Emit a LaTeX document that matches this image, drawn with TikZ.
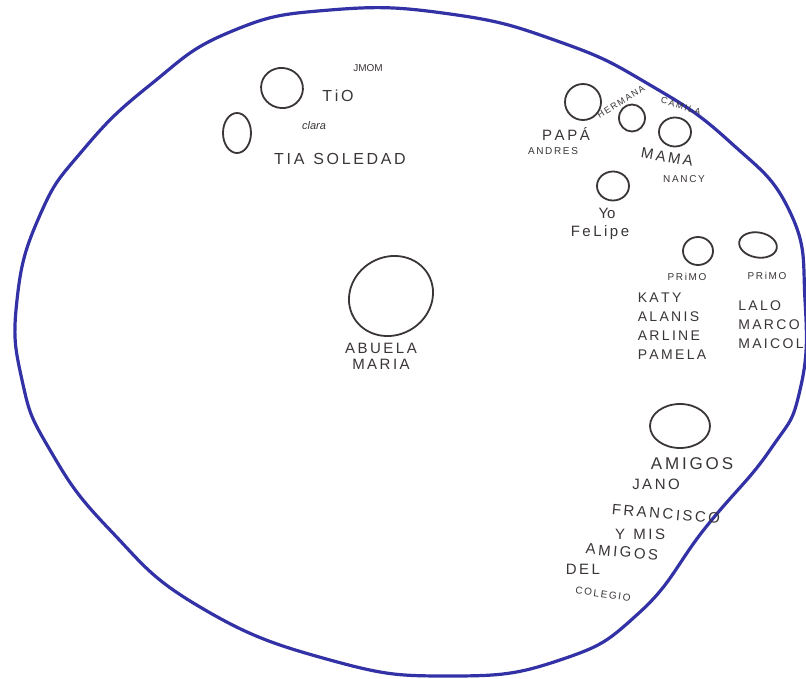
\documentclass[tikz,border=0pt]{standalone}
\usepackage{fontspec}
\setmainfont{Liberation Sans}
\usepackage{tikz}
\usetikzlibrary{positioning,shapes.geometric}
\usepackage{xcolor}
\definecolor{inkblue}{HTML}{3232A6}
\definecolor{pencil}{HTML}{3A3538}

\begin{document}
\begin{tikzpicture}[
    x=1pt,y=-1pt,
    ring/.style={draw=pencil,ellipse,line width=1.8pt,inner sep=0pt},
    word/.style={font=\fontsize{15}{15}\selectfont,text=pencil,inner sep=1pt},
    small/.style={font=\fontsize{10}{10}\selectfont,text=pencil,inner sep=1pt},
    list/.style={word,align=left,font=\fontsize{14}{19}\selectfont}
]
\useasboundingbox (0,0) rectangle (806,679);
\fill[white] (0,0) rectangle (806,679);

% outer boundary
\draw[inkblue,line width=3.2pt] plot[smooth cycle,tension=0.8] coordinates {
  (17,300) (40,215) (83,150) (150,85) (230,32) (330,10) (450,14) (560,42)
  (650,85) (730,142) (790,212) (805,300) (800,390) (770,450) (706,527)
  (640,612) (560,660) (450,676) (330,660) (200,607) (110,530) (50,450) (22,380)};

% circles
\node[ring,minimum width=42pt,minimum height=40pt,rotate=-15] (tio) at (282,88) {};
\node[ring,minimum width=28pt,minimum height=40pt] (tia) at (237,133) {};
\node[ring,minimum width=36pt,minimum height=36pt] (papa) at (583,102) {};
\node[ring,minimum width=26pt,minimum height=27pt] (hermana) at (632,118) {};
\node[ring,minimum width=32pt,minimum height=29pt] (mama) at (675,132) {};
\node[ring,minimum width=32pt,minimum height=29pt] (yo) at (613,186) {};
\node[ring,minimum width=30pt,minimum height=28pt] (primoA) at (698,251) {};
\node[ring,minimum width=38pt,minimum height=25pt,rotate=-10] (primoB) at (758,245) {};
\node[ring,minimum width=86pt,minimum height=78pt,rotate=30] (abuela) at (391,296) {};
\node[ring,minimum width=60pt,minimum height=44pt] (amigos) at (680,426) {};

% labels
\node[small] (jmom) at (368,68) {JMOM};
\node[word,font=\fontsize{16}{16}\selectfont] (tioTxt) at (338,96) {T\,i\,O};
\node[small,font=\itshape\fontsize{11}{11}\selectfont] (clara) at (314,126) {clara};
\node[word,font=\fontsize{16}{16}\selectfont] (tiaTxt) at (340,159) {T\,I\,A\ \ S\,O\,L\,E\,D\,A\,D};

\node[word] (papaTxt) at (566,134) {P\,A\,P\,Á};
\node[small] (andres) at (553,151) {A\,N\,D\,R\,E\,S};
\node[small,font=\fontsize{9}{9}\selectfont,rotate=32] (hermanaTxt) at (621,102) {H\,E\,R\,M\,A\,N\,A};
\node[small,font=\fontsize{9}{9}\selectfont,rotate=-17] (camila) at (681,106) {C\,A\,M\,I\,L\,A};
\node[word,rotate=-10] (mamaTxt) at (667,157) {M\,A\,M\,A};
\node[small] (nancy) at (684,179) {N\,A\,N\,C\,Y};
\node[word] (yoTxt) at (607,213) {Yo};
\node[word] (felipe) at (600,233) {F\,e\,L\,i\,p\,e};

\node[small] (primoATxt) at (687,277) {P\,R\,i\,M\,O};
\node[list] (primas) at (672,326) {K\,A\,T\,Y\\A\,L\,A\,N\,I\,S\\A\,R\,L\,I\,N\,E\\P\,A\,M\,E\,L\,A};
\node[small] (primoBTxt) at (767,276) {P\,R\,i\,M\,O};
\node[list] (primos) at (771,325) {L\,A\,L\,O\\M\,A\,R\,C\,O\\M\,A\,I\,C\,O\,L};

\node[word] (abuelaTxt) at (381,348) {A\,B\,U\,E\,L\,A};
\node[word,below=4pt of abuelaTxt] (maria) {M\,A\,R\,I\,A};

\node[word,font=\fontsize{17}{17}\selectfont] (amigosTxt) at (692,464) {A\,M\,I\,G\,O\,S};
\node[word] (jano) at (656,484) {J\,A\,N\,O};
\node[word,rotate=-5] (francisco) at (666,514) {F\,R\,A\,N\,C\,I\,S\,C\,O};
\node[word] (ymis) at (640,534) {Y\ \ M\,I\,S};
\node[word,rotate=-5] (amigos2) at (622,552) {A\,M\,I\,G\,O\,S};
\node[word] (del) at (583,569) {D\,E\,L};
\node[small,rotate=-8] (colegio) at (603,594) {C\,O\,L\,E\,G\,I\,O};
\end{tikzpicture}
\end{document}
